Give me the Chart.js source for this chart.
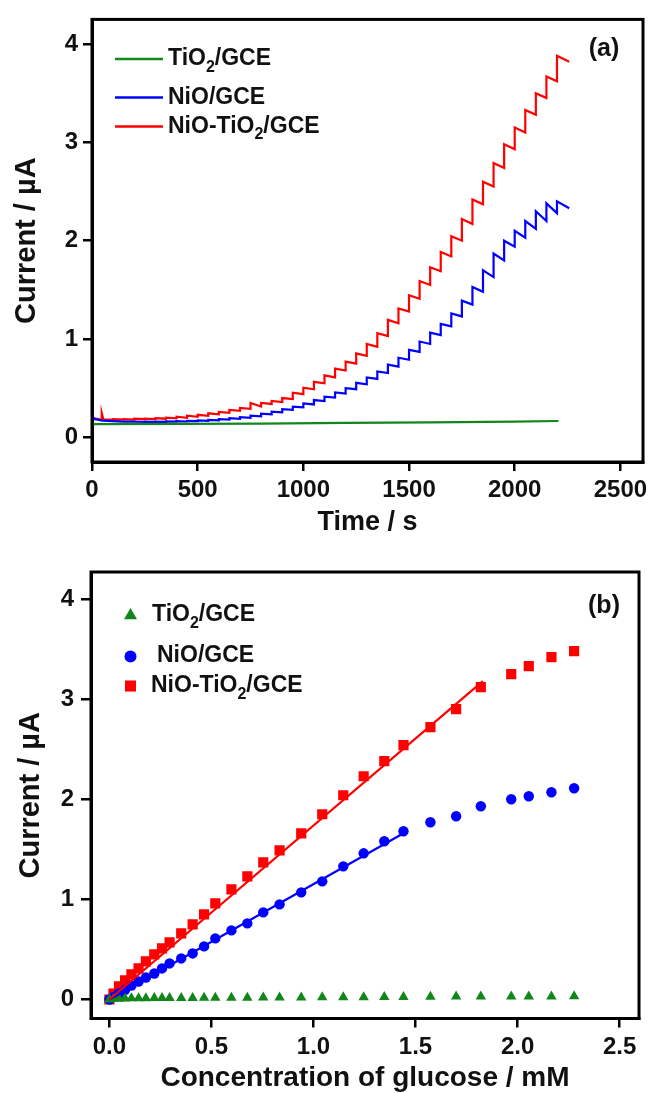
<!DOCTYPE html>
<html><head><meta charset="utf-8">
<script src="https://cdn.jsdelivr.net/npm/chart.js@4/dist/chart.umd.min.js"></script>
<style>
html,body{margin:0;padding:0;background:#fff;}
#wrap{position:relative;width:653px;height:1093px;overflow:hidden;}
.pane{position:absolute;left:0;width:653px;}
</style></head><body>
<div id="wrap">
<div class="pane" style="top:0;height:540px"><canvas id="ca" width="653" height="540"></canvas></div>
<div class="pane" style="top:540px;height:553px"><canvas id="cb" width="653" height="553"></canvas></div>
</div>
<script>
// ---------- Panel (a): amperometric response, current (uA) vs time (s) ----------
const xTicksA = [0, 500, 1000, 1500, 2000, 2500];
const xTickLabelsA = ['0', '500', '1000', '1500', '2000', '2500'];
const yTicksA = [0, 1, 2, 3, 4];

const greenTimeA = [0, 400, 800, 1200, 1600, 2000, 2207];
const greenA     = [0.135, 0.137, 0.141, 0.147, 0.153, 0.160, 0.167];

// red (NiO-TiO2/GCE): injection times, current just after injection, current just before next injection
const redTimeA = [0, 46, 54, 100, 150, 200, 250, 300, 350, 400, 450, 500, 550, 600, 650, 700, 750, 800, 850, 900, 950,
                  1000, 1050, 1100, 1150, 1200, 1250, 1300, 1350, 1400, 1450, 1500, 1550, 1600, 1650, 1700, 1750,
                  1800, 1850, 1900, 1950, 2000, 2050, 2100, 2150, 2200];
const redHiA = [0.20, 0.25, 0.18, 0.185, 0.185, 0.19, 0.19, 0.195, 0.20, 0.21, 0.22, 0.23, 0.245, 0.26, 0.28, 0.30, 0.35, 0.35, 0.37, 0.40, 0.455,
                0.505, 0.565, 0.63, 0.70, 0.77, 0.855, 0.95, 1.06, 1.195, 1.31, 1.445, 1.59, 1.73, 1.885, 2.045, 2.22,
                2.42, 2.60, 2.79, 2.98, 3.15, 3.33, 3.50, 3.67, 3.88];
const redLoA = [0.18, 0.18, 0.18, 0.18, 0.18, 0.185, 0.185, 0.19, 0.195, 0.20, 0.21, 0.22, 0.235, 0.25, 0.27, 0.29, 0.315, 0.34, 0.36, 0.39, 0.44,
                0.49, 0.55, 0.61, 0.68, 0.75, 0.83, 0.92, 1.03, 1.16, 1.28, 1.41, 1.55, 1.69, 1.84, 2.00, 2.17,
                2.37, 2.55, 2.74, 2.93, 3.10, 3.28, 3.45, 3.62, 3.82];
const redEndA = 2258;

// blue (NiO/GCE)
const blueTimeA = [0, 6, 50, 100, 150, 200, 250, 300, 350, 400, 450, 500, 550, 600, 650, 700, 750, 800, 850, 900, 950,
                   1000, 1050, 1100, 1150, 1200, 1250, 1300, 1350, 1400, 1450, 1500, 1550, 1600, 1650, 1700, 1750,
                   1800, 1850, 1900, 1950, 2000, 2050, 2100, 2150, 2200];
const blueHiA = [0.34, 0.19, 0.17, 0.165, 0.16, 0.16, 0.16, 0.16, 0.162, 0.165, 0.168, 0.172, 0.178, 0.186, 0.196, 0.205, 0.222, 0.242, 0.262, 0.288,
                 0.313, 0.345, 0.38, 0.415, 0.457, 0.50, 0.555, 0.61, 0.67, 0.74, 0.81, 0.89, 0.975, 1.065, 1.155, 1.26, 1.39,
                 1.53, 1.70, 1.87, 2.00, 2.10, 2.20, 2.30, 2.38, 2.40];
const blueLoA = [0.19, 0.17, 0.165, 0.16, 0.16, 0.158, 0.158, 0.158, 0.16, 0.162, 0.165, 0.168, 0.174, 0.18, 0.19, 0.20, 0.215, 0.235, 0.255, 0.28,
                 0.305, 0.335, 0.37, 0.405, 0.445, 0.49, 0.54, 0.595, 0.655, 0.72, 0.79, 0.87, 0.95, 1.04, 1.13, 1.23, 1.35,
                 1.48, 1.63, 1.80, 1.94, 2.03, 2.12, 2.20, 2.28, 2.33];
const blueEndA = 2258;

// ---------- Panel (b): calibration, current (uA) vs glucose concentration (mM) ----------
const xTicksB = [0, 0.5, 1.0, 1.5, 2.0, 2.5];
const xTickLabelsB = ['0.0', '0.5', '1.0', '1.5', '2.0', '2.5'];
const yTicksB = [0, 1, 2, 3, 4];

const concB = [0, 0.02, 0.047, 0.077, 0.108, 0.143, 0.179, 0.22, 0.258, 0.295, 0.352, 0.408, 0.464, 0.519, 0.598, 0.676,
               0.754, 0.834, 0.94, 1.043, 1.146, 1.246, 1.347, 1.441, 1.573, 1.699, 1.82, 1.969, 2.055, 2.166, 2.277];
const redB   = [0, 0.06, 0.13, 0.19, 0.25, 0.31, 0.38, 0.45, 0.51, 0.57, 0.66, 0.75, 0.85, 0.96, 1.10, 1.23,
                1.37, 1.49, 1.66, 1.85, 2.04, 2.23, 2.38, 2.54, 2.72, 2.90, 3.12, 3.25, 3.33, 3.42, 3.48];
const blueB  = [0, 0.025, 0.06, 0.096, 0.14, 0.18, 0.22, 0.26, 0.31, 0.36, 0.41, 0.46, 0.53, 0.61, 0.69, 0.76,
                0.87, 0.95, 1.07, 1.18, 1.33, 1.46, 1.58, 1.68, 1.77, 1.83, 1.93, 2.00, 2.03, 2.07, 2.11];
const greenB = [0, 0.005, 0.008, 0.01, 0.012, 0.012, 0.013, 0.014, 0.015, 0.015, 0.016, 0.016, 0.017, 0.017, 0.018, 0.018,
                0.019, 0.02, 0.02, 0.022, 0.022, 0.023, 0.024, 0.025, 0.028, 0.03, 0.03, 0.03, 0.031, 0.031, 0.032];
const redFitX  = [0, 1.83];
const redFitY  = [0.0, 3.18];
const blueFitX = [0, 1.45];
const blueFitY = [0.0, 1.67];

const seriesLabels = ['TiO2/GCE', 'NiO/GCE', 'NiO-TiO2/GCE'];

// ---------- helpers ----------
const FAM = "'Liberation Sans', Arial, Helvetica, sans-serif";
const GREEN = '#11861a', BLUE = '#0000ff', RED = '#ff0000';

function sawPoints(times, hi, lo, tEnd) {
  const pts = [];
  for (let i = 0; i < times.length; i++) {
    pts.push({x: times[i], y: hi[i]});
    pts.push({x: i + 1 < times.length ? times[i + 1] : tEnd, y: lo[i]});
  }
  return pts;
}
function zipXY(xs, ys) { return xs.map((x, i) => ({x, y: ys[i]})); }

function drawRich(ctx, text, x, y, size) {
  const parts = text.split(/(\d)/);
  let cx = x;
  ctx.textAlign = 'left';
  ctx.textBaseline = 'middle';
  for (const p of parts) {
    if (!p) continue;
    if (/^\d$/.test(p)) {
      ctx.font = `bold ${Math.round(size * 0.68)}px ${FAM}`;
      ctx.fillText(p, cx, y + size * 0.36);
    } else {
      ctx.font = `bold ${size}px ${FAM}`;
      ctx.fillText(p, cx, y);
    }
    cx += ctx.measureText(p).width;
  }
}
function drawMarker(ctx, style, x, y, r) {
  ctx.beginPath();
  if (style === 'triangle') {
    let a = 0;
    ctx.moveTo(x + Math.sin(a) * r, y - Math.cos(a) * r);
    a += 2 * Math.PI / 3; ctx.lineTo(x + Math.sin(a) * r, y - Math.cos(a) * r);
    a += 2 * Math.PI / 3; ctx.lineTo(x + Math.sin(a) * r, y - Math.cos(a) * r);
    ctx.closePath();
  } else if (style === 'circle') {
    ctx.arc(x, y, r, 0, Math.PI * 2);
  } else {
    const s = r * Math.SQRT1_2;
    ctx.rect(x - s, y - s, 2 * s, 2 * s);
  }
  ctx.fill();
}

const framePlugin = {
  id: 'frameBox',
  afterDatasetsDraw(chart) {
    const {ctx, chartArea: a} = chart;
    ctx.save();
    ctx.strokeStyle = '#000';
    ctx.lineWidth = 3;
    ctx.strokeRect(a.left, a.top, a.right - a.left, a.bottom - a.top);
    ctx.restore();
  }
};
const legendPlugin = {
  id: 'panelLegend',
  afterDraw(chart, args, opts) {
    const ctx = chart.ctx;
    ctx.save();
    opts.items.forEach(it => {
      const ds = chart.data.datasets[it.ds];
      const col = ds.borderColor || ds.backgroundColor;
      if (it.kind === 'line') {
        ctx.strokeStyle = col; ctx.lineWidth = 2.5;
        ctx.beginPath(); ctx.moveTo(it.x1, it.y); ctx.lineTo(it.x2, it.y); ctx.stroke();
      } else {
        ctx.fillStyle = ds.backgroundColor;
        drawMarker(ctx, ds.pointStyle, it.mx, it.my, it.r);
      }
      ctx.fillStyle = '#111';
      drawRich(ctx, ds.label, it.tx, it.y, opts.size);
    });
    ctx.fillStyle = '#111';
    ctx.font = `bold ${opts.tagSize}px ${FAM}`;
    ctx.textAlign = 'center'; ctx.textBaseline = 'middle';
    ctx.fillText(opts.tag, opts.tagX, opts.tagY);
    ctx.restore();
  }
};

function axisCommon(tickLen) {
  return {
    grid: {drawOnChartArea: false, drawTicks: true, tickLength: tickLen, color: '#000', lineWidth: 2.5},
    border: {display: true, color: '#000', width: 3},
  };
}
const tickFont = {family: FAM, size: 24, weight: 'bold'};

// ---------- chart (a) ----------
new Chart(document.getElementById('ca'), {
  type: 'scatter',
  data: {datasets: [
    {label: seriesLabels[0], data: zipXY(greenTimeA, greenA), borderColor: GREEN, backgroundColor: GREEN, showLine: true, pointRadius: 0, borderWidth: 2.2},
    {label: seriesLabels[1], data: sawPoints(blueTimeA, blueHiA, blueLoA, blueEndA), borderColor: BLUE, backgroundColor: BLUE, showLine: true, pointRadius: 0, borderWidth: 2.2},
    {label: seriesLabels[2], data: sawPoints(redTimeA, redHiA, redLoA, redEndA), borderColor: RED, backgroundColor: RED, showLine: true, pointRadius: 0, borderWidth: 2.2},
  ]},
  options: {
    responsive: false, animation: false, events: [],
    layout: {padding: {left: 0, right: 10, top: 15, bottom: 0}},
    plugins: {
      legend: {display: false}, tooltip: {enabled: false},
      panelLegend: {size: 23, tag: '(a)', tagSize: 25, tagX: 604, tagY: 49, items: [
        {ds: 0, kind: 'line', x1: 115, x2: 163, y: 59, tx: 168},
        {ds: 1, kind: 'line', x1: 115, x2: 163, y: 97.5, tx: 168},
        {ds: 2, kind: 'line', x1: 115, x2: 163, y: 126.5, tx: 168},
      ]}
    },
    scales: {
      x: Object.assign(axisCommon(9), {
        type: 'linear', min: 0, max: 2607,
        afterBuildTicks: s => { s.ticks = xTicksA.map(v => ({value: v})); },
        afterFit: s => { s.height = 78; },
        ticks: {font: tickFont, color: '#111', padding: 5, maxRotation: 0, autoSkip: false,
                callback: (v, i) => xTickLabelsA[i]},
        title: {display: true, text: 'Time / s', color: '#111', font: {family: FAM, size: 27, weight: 'bold', lineHeight: 1}, padding: {top: 0, bottom: 4}},
      }),
      y: Object.assign(axisCommon(9), {
        type: 'linear', min: -0.25, max: 4.25,
        afterBuildTicks: s => { s.ticks = yTicksA.map(v => ({value: v})); },
        afterFit: s => { s.width = 92; },
        ticks: {font: tickFont, color: '#111', padding: 5},
        title: {display: true, text: 'Current / \u00B5A', color: '#111', font: {family: FAM, size: 29, weight: 'bold', lineHeight: 1}, padding: {top: 12, bottom: 0}},
      }),
    }
  },
  plugins: [framePlugin, legendPlugin]
});

// ---------- chart (b) ----------
new Chart(document.getElementById('cb'), {
  type: 'scatter',
  data: {datasets: [
    {label: 'fitRed', data: zipXY(redFitX, redFitY), borderColor: RED, backgroundColor: RED, showLine: true, pointRadius: 0, borderWidth: 2.2},
    {label: 'fitBlue', data: zipXY(blueFitX, blueFitY), borderColor: BLUE, backgroundColor: BLUE, showLine: true, pointRadius: 0, borderWidth: 2.2},
    {label: seriesLabels[0], data: zipXY(concB, greenB), pointStyle: 'triangle', pointRadius: 6, backgroundColor: GREEN, borderColor: GREEN, borderWidth: 0},
    {label: seriesLabels[1], data: zipXY(concB, blueB), pointStyle: 'circle', pointRadius: 5.2, backgroundColor: BLUE, borderColor: BLUE, borderWidth: 0},
    {label: seriesLabels[2], data: zipXY(concB, redB), pointStyle: 'rect', pointRadius: 7.2, backgroundColor: RED, borderColor: RED, borderWidth: 0},
  ]},
  options: {
    responsive: false, animation: false, events: [],
    layout: {padding: {left: 0, right: 14, top: 32, bottom: 0}},
    plugins: {
      legend: {display: false}, tooltip: {enabled: false},
      panelLegend: {size: 23, tag: '(b)', tagSize: 25, tagX: 604, tagY: 66, items: [
        {ds: 2, kind: 'marker', mx: 130.5, my: 75.5, r: 7.5, y: 75, tx: 152},
        {ds: 3, kind: 'marker', mx: 130.5, my: 116.5, r: 6, y: 116, tx: 157},
        {ds: 4, kind: 'marker', mx: 130.5, my: 146, r: 7.8, y: 146, tx: 151},
      ]}
    },
    scales: {
      x: Object.assign(axisCommon(9), {
        type: 'linear', min: -0.09, max: 2.595,
        afterBuildTicks: s => { s.ticks = xTicksB.map(v => ({value: v})); },
        afterFit: s => { s.height = 74.5; },
        ticks: {font: tickFont, color: '#111', padding: 5, maxRotation: 0, autoSkip: false,
                callback: (v, i) => xTickLabelsB[i]},
        title: {display: true, text: 'Concentration of glucose / mM', color: '#111', font: {family: FAM, size: 28, weight: 'bold', lineHeight: 1}, padding: {top: 0, bottom: 1}},
      }),
      y: Object.assign(axisCommon(10), {
        type: 'linear', min: -0.19, max: 4.27,
        afterBuildTicks: s => { s.ticks = yTicksB.map(v => ({value: v})); },
        afterFit: s => { s.width = 91; },
        ticks: {font: tickFont, color: '#111', padding: 7},
        title: {display: true, text: 'Current / \u00B5A', color: '#111', font: {family: FAM, size: 29, weight: 'bold', lineHeight: 1}, padding: {top: 16, bottom: 0}},
      }),
    }
  },
  plugins: [framePlugin, legendPlugin]
});
</script>
</body></html>
